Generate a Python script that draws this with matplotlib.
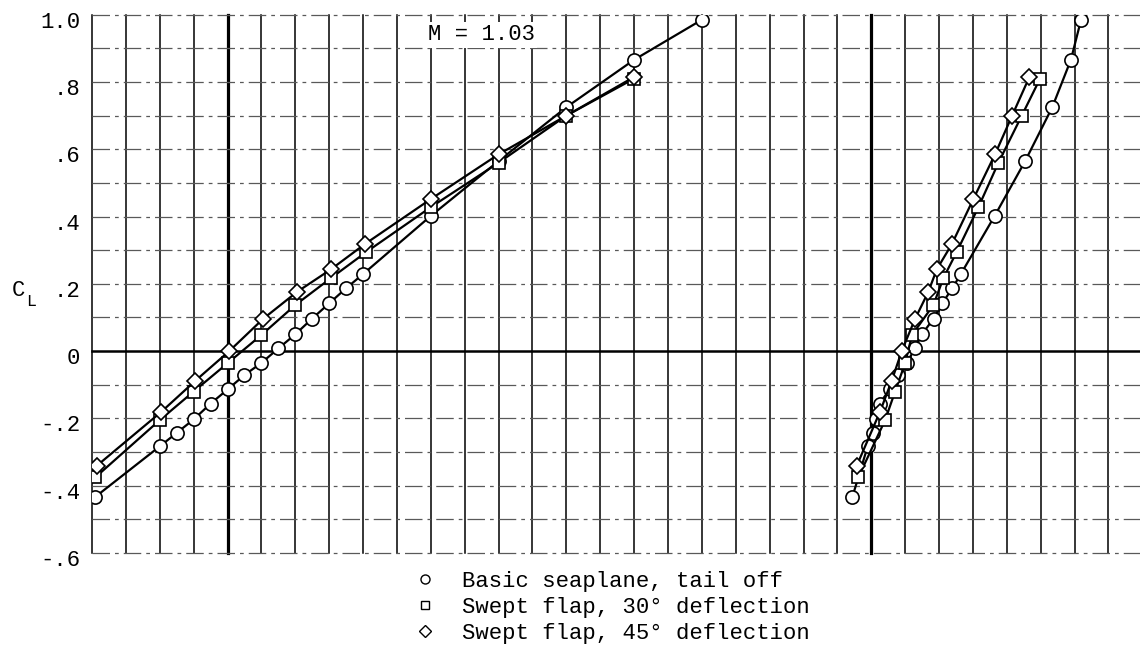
import numpy as np
import matplotlib
matplotlib.use('Agg')
import matplotlib.pyplot as plt
import matplotlib.transforms as mtransforms
from matplotlib.lines import Line2D

# typewriter look of the old report
plt.rcParams['font.family'] = ['Liberation Mono', 'DejaVu Sans Mono']

# basic seaplane, tail off
alpha_basic = [-3.9, -2, -1.5, -1, -0.5, 0, 0.5, 1, 1.5, 2, 2.5, 3, 3.5, 4, 6, 8, 10, 12, 14]
cl_basic = [-0.433, -0.283, -0.243, -0.203, -0.156, -0.114, -0.071, -0.035, 0.008, 0.05,
            0.097, 0.142, 0.187, 0.229, 0.402, 0.565, 0.725, 0.866, 0.985]
cm_basic = [-0.011, -0.002, 0.001, 0.003, 0.005, 0.011, 0.016, 0.021, 0.026, 0.030,
            0.037, 0.042, 0.048, 0.053, 0.073, 0.091, 0.107, 0.118, 0.124]

# swept flap, 30 deg
alpha_30 = [-3.9, -2, -1, 0, 1, 2, 3.05, 4.1, 6, 8, 10, 12]
cl_30 = [-0.375, -0.205, -0.12, -0.036, 0.048, 0.137, 0.217, 0.295, 0.428, 0.56, 0.70, 0.81]
cm_30 = [-0.0075, 0.0083, 0.0142, 0.0201, 0.0242, 0.0368, 0.0427, 0.0506, 0.0634, 0.0752, 0.0890, 0.0998]

# swept flap, 45 deg
alpha_45 = [-3.85, -1.95, -0.95, 0.05, 1.05, 2.05, 3.05, 4.05, 6, 8, 10, 12]
cl_45 = [-0.34, -0.18, -0.088, 0.0, 0.096, 0.176, 0.243, 0.318, 0.452, 0.585, 0.70, 0.815]
cm_45 = [-0.0084, 0.0053, 0.0122, 0.0181, 0.0260, 0.0338, 0.0388, 0.0477, 0.0604, 0.0732, 0.0833, 0.0935]

cl_ticks = [-0.6, -0.4, -0.2, 0, 0.2, 0.4, 0.6, 0.8, 1.0]
cl_ticklabels = ['-.6', '-.4', '-.2', '0', '.2', '.4', '.6', '.8', '1.0']

series = [
    ('Basic seaplane, tail off', 'o', 9.5, alpha_basic, cm_basic, cl_basic),
    ('Swept flap, 30\u00b0 deflection', 's', 8.5, alpha_30, cm_30, cl_30),
    ('Swept flap, 45\u00b0 deflection', 'D', 8, alpha_45, cm_45, cl_45),
]

W, H = 1140, 652
fig = plt.figure(figsize=(W / 100, H / 100), dpi=100)
ax = fig.add_axes([92 / W, 1 - 553 / H, 1 - 92 / W, (553 - 14.7) / H])
ax.set_xlim(-4, 26.93)
ax.set_ylim(-0.6, 1.0)
ax2 = ax.twiny()
ax2.set_xlim(-0.46, 0.1588)

for a in (ax, ax2):
    for s in a.spines.values():
        s.set_visible(False)
    a.set_xticks([])

# grid paper
for a in range(-4, 27):
    heavy = a in (0, 19)
    ax.axvline(a, color='k', lw=2.3 if heavy else 1.1, zorder=1, clip_on=False)
for c in np.arange(-0.6, 1.01, 0.1):
    if abs(c) < 1e-9:
        ax.axhline(0, color='k', lw=1.8, zorder=1, clip_on=False)
    else:
        ax.axhline(c, color='0.35', lw=0.9, ls=(0, (14, 4, 3, 4)), zorder=1, clip_on=False)

for label, mk, ms, alpha, cm, cl in series:
    ax.plot(alpha, cl, color='k', lw=1.6, marker=mk, ms=ms, mfc='white',
            mec='k', mew=1.2, zorder=3)
    ax2.plot(cm, cl, color='k', lw=1.6, marker=mk, ms=ms, mfc='white',
             mec='k', mew=1.2, zorder=3)

ax.set_yticks(cl_ticks)
ax.set_yticklabels(cl_ticklabels)
ax.tick_params(axis='y', length=0, pad=8.6, labelsize=16)
shift = mtransforms.ScaledTranslation(0, -0.05, fig.dpi_scale_trans)
for lbl in ax.get_yticklabels():
    lbl.set_transform(lbl.get_transform() + shift)

fig.text(18 / W, 1 - 290 / H, 'C', ha='center', va='center', fontsize=16)
fig.text(31 / W, 1 - 301 / H, 'L', ha='center', va='center', fontsize=12)

fig.text(481 / W, 1 - 35 / H, 'M = 1.03', ha='center', va='center', fontsize=16,
         bbox=dict(fc='white', ec='none', pad=2))

handles = [Line2D([], [], ls='none', marker=mk, ms=s2, mfc='white', mec='k', mew=1.0)
           for (_, mk, _, _, _, _), s2 in zip(series, [6.5, 6, 6.5])]
fig.legend(handles, [s[0] for s in series], loc='upper left',
           bbox_to_anchor=(414 / W, 1 - 571 / H), frameon=False, borderpad=0,
           borderaxespad=0, handlelength=1.0, handletextpad=1.15,
           labelspacing=0.22, fontsize=16)

fig.savefig('out.png', dpi=100)
